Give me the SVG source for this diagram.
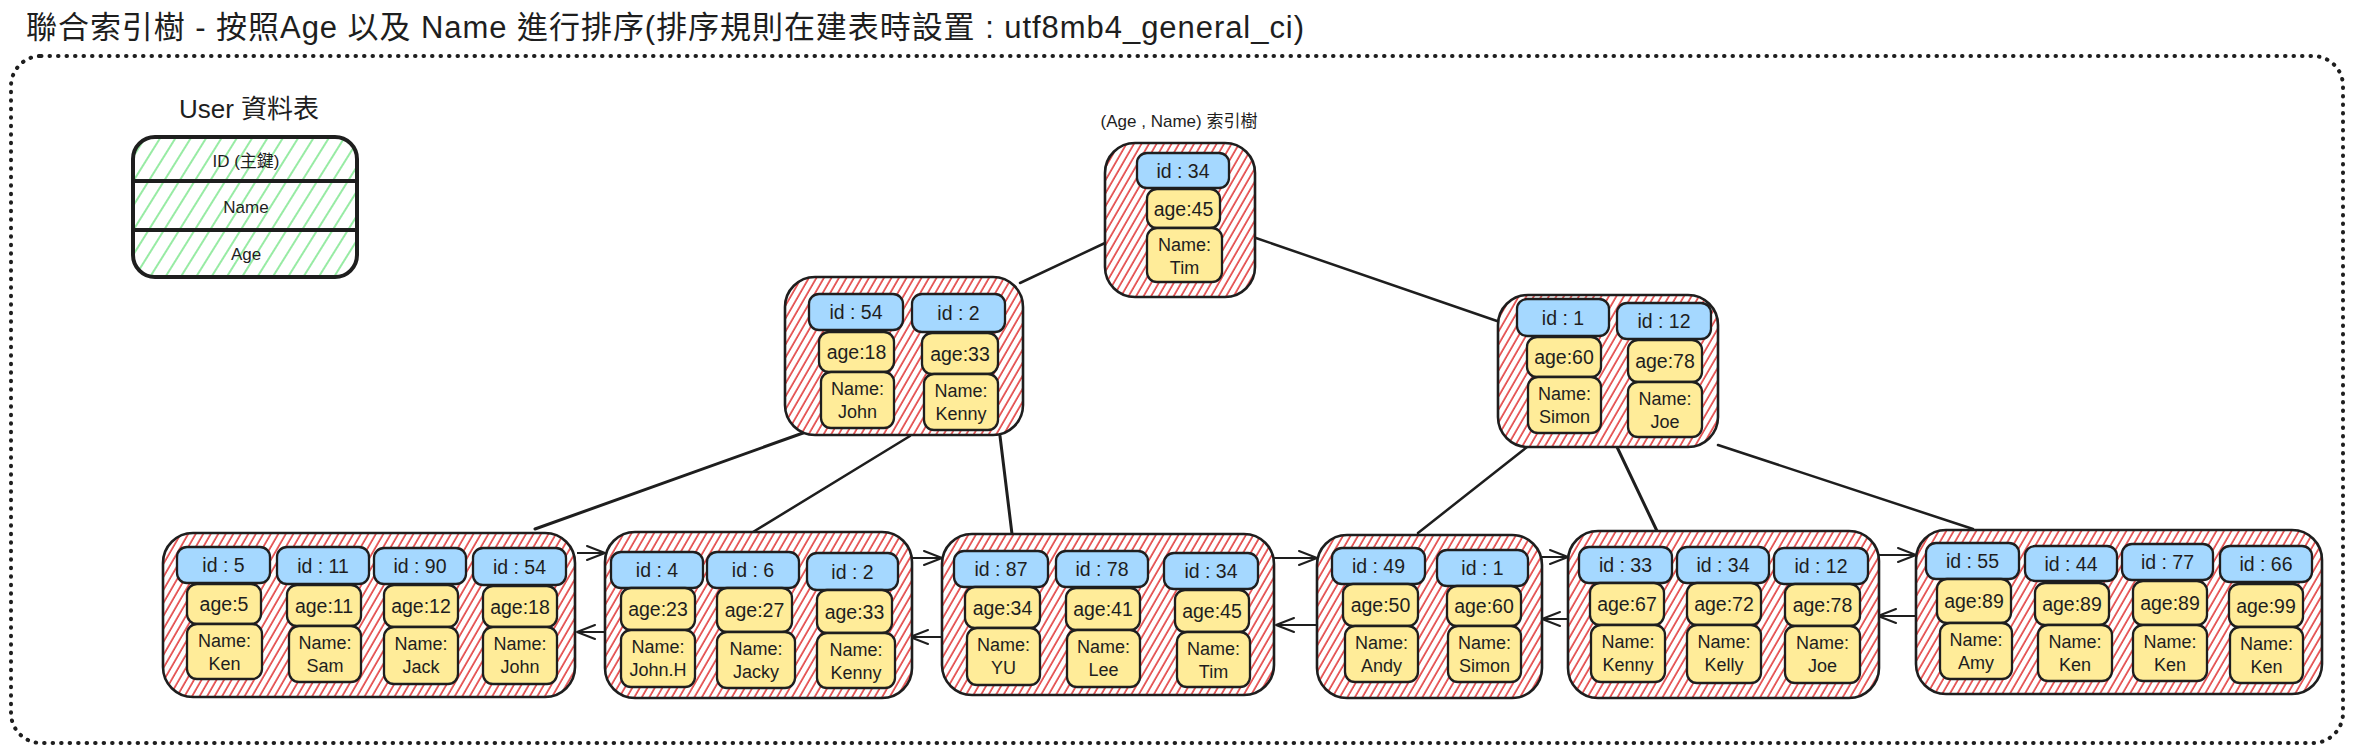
<svg xmlns="http://www.w3.org/2000/svg" width="2353" height="752" viewBox="0 0 2353 752">
<style>
.t{font-family:"Liberation Sans","Noto Sans CJK TC",sans-serif;fill:#1e1e1e;text-anchor:middle;dominant-baseline:central;font-size:19.5px}
.n{font-size:18px}
.node{fill:url(#hr);stroke:#1e1e1e;stroke-width:2.6}
.idb{fill:#a5d8ff;stroke:#1e1e1e;stroke-width:2.3}
.ab{fill:#ffec99;stroke:#1e1e1e;stroke-width:2.3}
.ln{stroke:#1e1e1e;stroke-width:2.5;fill:none;stroke-linecap:round}
.ar{stroke:#1e1e1e;stroke-width:2;fill:none;marker-end:url(#ah)}
</style>
<defs>
<pattern id="hr" width="6.5" height="6.5" patternUnits="userSpaceOnUse" patternTransform="rotate(30)"><rect width="6.5" height="6.5" fill="#ffffff"/><line x1="1" y1="0" x2="1" y2="6.5" stroke="#e03131" stroke-width="1.5"/></pattern>
<pattern id="hg" width="13" height="13" patternUnits="userSpaceOnUse" patternTransform="rotate(32)"><rect width="13" height="13" fill="#ffffff"/><line x1="1" y1="0" x2="1" y2="13" stroke="#8ce99a" stroke-width="1.8"/></pattern>
<marker id="ah" viewBox="0 0 20 16" markerWidth="20" markerHeight="16" refX="19" refY="8" orient="auto" markerUnits="userSpaceOnUse"><path d="M1,1 L19,8 L1,15" fill="none" stroke="#1e1e1e" stroke-width="2" stroke-linecap="round" stroke-linejoin="round"/></marker>
</defs>
<rect width="2353" height="752" fill="#ffffff"/>
<text id="title" x="26" y="27" textLength="1278" lengthAdjust="spacing" style="font-family:'Liberation Sans','Noto Sans CJK TC',sans-serif;font-size:31px;fill:#1e1e1e;dominant-baseline:central">聯合索引樹 - 按照Age 以及 Name 進行排序(排序規則在建表時設置 : utf8mb4_general_ci)</text>
<rect id="frame" x="11" y="56" width="2332" height="687" rx="30" fill="none" stroke="#1e1e1e" stroke-width="4" stroke-linecap="round" stroke-dasharray="0.5 8"/>

<g id="user-table">
<text class="t" x="249" y="109" style="font-size:26px">User 資料表</text>
<rect x="133" y="137" width="224" height="140" rx="22" fill="url(#hg)" stroke="#1e1e1e" stroke-width="4"/>
<line x1="133" y1="181" x2="357" y2="181" stroke="#1e1e1e" stroke-width="4"/>
<line x1="133" y1="230" x2="357" y2="230" stroke="#1e1e1e" stroke-width="4"/>
<text class="t" x="246" y="161" style="font-size:17px">ID (主鍵)</text>
<text class="t" x="246" y="207" style="font-size:17px">Name</text>
<text class="t" x="246" y="254" style="font-size:17px">Age</text>
</g>

<text id="tree-label" class="t" x="1179" y="121" style="font-size:17px">(Age , Name) 索引樹</text>

<g id="connectors">
<line class="ln" x1="1105" y1="243" x2="1020" y2="283"/>
<line class="ln" x1="1253" y1="237" x2="1497" y2="321"/>
<line class="ln" x1="803" y1="433" x2="535" y2="529" style="stroke-width:3"/>
<line class="ln" x1="910" y1="436" x2="753" y2="532"/>
<line class="ln" x1="1000" y1="436" x2="1012" y2="534" style="stroke-width:3"/>
<line class="ln" x1="1527" y1="447" x2="1418" y2="533"/>
<line class="ln" x1="1617" y1="447" x2="1657" y2="531" style="stroke-width:3"/>
<line class="ln" x1="1718" y1="445" x2="1973" y2="529"/>
<line class="ar" x1="577" y1="553" x2="605" y2="553"/>
<line class="ar" x1="605" y1="632" x2="577" y2="632"/>
<line class="ar" x1="912" y1="558" x2="942" y2="558"/>
<line class="ar" x1="942" y1="637" x2="910" y2="637"/>
<line class="ar" x1="1274" y1="558" x2="1317" y2="558"/>
<line class="ar" x1="1317" y1="625" x2="1276" y2="625"/>
<line class="ar" x1="1542" y1="557" x2="1568" y2="557"/>
<line class="ar" x1="1568" y1="619" x2="1542" y2="619"/>
<line class="ar" x1="1879" y1="555" x2="1916" y2="555"/>
<line class="ar" x1="1916" y1="616" x2="1878" y2="616"/>
</g>

<g id="root">
<rect class="node" x="1105" y="143" width="150" height="154" rx="30"/>
<rect class="idb" x="1137" y="153" width="92" height="35" rx="10"/><text class="t" x="1183" y="170.5">id : 34</text>
<rect class="ab" x="1147" y="189" width="73" height="39" rx="10"/><text class="t" x="1183.5" y="208.5">age:45</text>
<rect class="ab" x="1147" y="228" width="75" height="54" rx="10"/><text class="t n" x="1184.5" y="245">Name:</text><text class="t n" x="1184.5" y="268">Tim</text>
</g>

<g id="inner-left">
<rect class="node" x="785" y="277" width="238" height="158" rx="30"/>
<rect class="idb" x="809" y="294" width="94" height="36" rx="10"/><text class="t" x="856" y="312">id : 54</text>
<rect class="ab" x="819" y="332" width="75" height="40" rx="10"/><text class="t" x="856.5" y="352">age:18</text>
<rect class="ab" x="821" y="372" width="73" height="56" rx="10"/><text class="t n" x="857.5" y="389">Name:</text><text class="t n" x="857.5" y="412">John</text>
<rect class="idb" x="912" y="294" width="93" height="38" rx="10"/><text class="t" x="958.5" y="313">id : 2</text>
<rect class="ab" x="922" y="333" width="76" height="41" rx="10"/><text class="t" x="960" y="353.5">age:33</text>
<rect class="ab" x="924" y="374" width="74" height="56" rx="10"/><text class="t n" x="961" y="391">Name:</text><text class="t n" x="961" y="414">Kenny</text>
</g>

<g id="inner-right">
<rect class="node" x="1498" y="295" width="220" height="152" rx="30"/>
<rect class="idb" x="1517" y="299" width="92" height="37" rx="10"/><text class="t" x="1563" y="317.5">id : 1</text>
<rect class="ab" x="1527" y="337" width="74" height="40" rx="10"/><text class="t" x="1564" y="357">age:60</text>
<rect class="ab" x="1528" y="377" width="73" height="56" rx="10"/><text class="t n" x="1564.5" y="394">Name:</text><text class="t n" x="1564.5" y="417">Simon</text>
<rect class="idb" x="1617" y="303" width="94" height="36" rx="10"/><text class="t" x="1664" y="321">id : 12</text>
<rect class="ab" x="1628" y="340" width="74" height="42" rx="10"/><text class="t" x="1665" y="361">age:78</text>
<rect class="ab" x="1628" y="382" width="74" height="55" rx="10"/><text class="t n" x="1665" y="399">Name:</text><text class="t n" x="1665" y="422">Joe</text>
</g>

<g id="leaf1">
<rect class="node" x="163" y="533" width="412" height="164" rx="30"/>
<rect class="idb" x="177" y="547" width="93" height="36" rx="10"/><text class="t" x="223.5" y="565">id : 5</text>
<rect class="ab" x="187" y="584" width="74" height="40" rx="10"/><text class="t" x="224" y="604">age:5</text>
<rect class="ab" x="187" y="624" width="75" height="55" rx="10"/><text class="t n" x="224.5" y="641">Name:</text><text class="t n" x="224.5" y="664">Ken</text>
<rect class="idb" x="277" y="547" width="92" height="37" rx="10"/><text class="t" x="323" y="565.5">id : 11</text>
<rect class="ab" x="287" y="585" width="74" height="41" rx="10"/><text class="t" x="324" y="605.5">age:11</text>
<rect class="ab" x="289" y="626" width="72" height="56" rx="10"/><text class="t n" x="325" y="643">Name:</text><text class="t n" x="325" y="666">Sam</text>
<rect class="idb" x="374" y="548" width="92" height="36" rx="10"/><text class="t" x="420" y="566">id : 90</text>
<rect class="ab" x="384" y="585" width="74" height="42" rx="10"/><text class="t" x="421" y="606">age:12</text>
<rect class="ab" x="384" y="627" width="74" height="57" rx="10"/><text class="t n" x="421" y="644">Name:</text><text class="t n" x="421" y="667">Jack</text>
<rect class="idb" x="473" y="548" width="93" height="37" rx="10"/><text class="t" x="519.5" y="566.5">id : 54</text>
<rect class="ab" x="483" y="586" width="74" height="41" rx="10"/><text class="t" x="520" y="606.5">age:18</text>
<rect class="ab" x="483" y="627" width="74" height="57" rx="10"/><text class="t n" x="520" y="644">Name:</text><text class="t n" x="520" y="667">John</text>
</g>

<g id="leaf2">
<rect class="node" x="605" y="532" width="307" height="166" rx="30"/>
<rect class="idb" x="611" y="552" width="92" height="36" rx="10"/><text class="t" x="657" y="570">id : 4</text>
<rect class="ab" x="621" y="588" width="74" height="42" rx="10"/><text class="t" x="658" y="609">age:23</text>
<rect class="ab" x="621" y="630" width="74" height="57" rx="10"/><text class="t n" x="658" y="647">Name:</text><text class="t n" x="658" y="670">John.H</text>
<rect class="idb" x="707" y="552" width="92" height="36" rx="10"/><text class="t" x="753" y="570">id : 6</text>
<rect class="ab" x="717" y="588" width="75" height="44" rx="10"/><text class="t" x="754.5" y="610">age:27</text>
<rect class="ab" x="717" y="632" width="78" height="56" rx="10"/><text class="t n" x="756" y="649">Name:</text><text class="t n" x="756" y="672">Jacky</text>
<rect class="idb" x="807" y="553" width="91" height="37" rx="10"/><text class="t" x="852.5" y="571.5">id : 2</text>
<rect class="ab" x="817" y="590" width="75" height="43" rx="10"/><text class="t" x="854.5" y="611.5">age:33</text>
<rect class="ab" x="817" y="633" width="78" height="55" rx="10"/><text class="t n" x="856" y="650">Name:</text><text class="t n" x="856" y="673">Kenny</text>
</g>

<g id="leaf3">
<rect class="node" x="942" y="534" width="332" height="161" rx="30"/>
<rect class="idb" x="954" y="551" width="94" height="36" rx="10"/><text class="t" x="1001" y="569">id : 87</text>
<rect class="ab" x="965" y="587" width="75" height="41" rx="10"/><text class="t" x="1002.5" y="607.5">age:34</text>
<rect class="ab" x="967" y="628" width="73" height="57" rx="10"/><text class="t n" x="1003.5" y="645">Name:</text><text class="t n" x="1003.5" y="668">YU</text>
<rect class="idb" x="1056" y="551" width="92" height="36" rx="10"/><text class="t" x="1102" y="569">id : 78</text>
<rect class="ab" x="1066" y="588" width="74" height="42" rx="10"/><text class="t" x="1103" y="609">age:41</text>
<rect class="ab" x="1067" y="630" width="73" height="57" rx="10"/><text class="t n" x="1103.5" y="647">Name:</text><text class="t n" x="1103.5" y="670">Lee</text>
<rect class="idb" x="1164" y="553" width="94" height="36" rx="10"/><text class="t" x="1211" y="571">id : 34</text>
<rect class="ab" x="1175" y="590" width="74" height="42" rx="10"/><text class="t" x="1212" y="611">age:45</text>
<rect class="ab" x="1177" y="632" width="73" height="55" rx="10"/><text class="t n" x="1213.5" y="649">Name:</text><text class="t n" x="1213.5" y="672">Tim</text>
</g>

<g id="leaf4">
<rect class="node" x="1317" y="535" width="225" height="163" rx="30"/>
<rect class="idb" x="1332" y="548" width="93" height="36" rx="10"/><text class="t" x="1378.5" y="566">id : 49</text>
<rect class="ab" x="1343" y="584" width="75" height="42" rx="10"/><text class="t" x="1380.5" y="605">age:50</text>
<rect class="ab" x="1345" y="626" width="73" height="56" rx="10"/><text class="t n" x="1381.5" y="643">Name:</text><text class="t n" x="1381.5" y="666">Andy</text>
<rect class="idb" x="1437" y="550" width="91" height="36" rx="10"/><text class="t" x="1482.5" y="568">id : 1</text>
<rect class="ab" x="1447" y="586" width="74" height="40" rx="10"/><text class="t" x="1484" y="606">age:60</text>
<rect class="ab" x="1448" y="626" width="73" height="56" rx="10"/><text class="t n" x="1484.5" y="643">Name:</text><text class="t n" x="1484.5" y="666">Simon</text>
</g>

<g id="leaf5">
<rect class="node" x="1568" y="531" width="311" height="167" rx="30"/>
<rect class="idb" x="1579" y="547" width="93" height="36" rx="10"/><text class="t" x="1625.5" y="565">id : 33</text>
<rect class="ab" x="1590" y="583" width="74" height="42" rx="10"/><text class="t" x="1627" y="604">age:67</text>
<rect class="ab" x="1591" y="625" width="74" height="57" rx="10"/><text class="t n" x="1628" y="642">Name:</text><text class="t n" x="1628" y="665">Kenny</text>
<rect class="idb" x="1677" y="547" width="92" height="36" rx="10"/><text class="t" x="1723" y="565">id : 34</text>
<rect class="ab" x="1687" y="583" width="74" height="42" rx="10"/><text class="t" x="1724" y="604">age:72</text>
<rect class="ab" x="1687" y="625" width="74" height="58" rx="10"/><text class="t n" x="1724" y="642">Name:</text><text class="t n" x="1724" y="665">Kelly</text>
<rect class="idb" x="1774" y="548" width="94" height="36" rx="10"/><text class="t" x="1821" y="566">id : 12</text>
<rect class="ab" x="1785" y="584" width="75" height="42" rx="10"/><text class="t" x="1822.5" y="605">age:78</text>
<rect class="ab" x="1785" y="626" width="75" height="57" rx="10"/><text class="t n" x="1822.5" y="643">Name:</text><text class="t n" x="1822.5" y="666">Joe</text>
</g>

<g id="leaf6">
<rect class="node" x="1916" y="530" width="406" height="164" rx="30"/>
<rect class="idb" x="1926" y="543" width="93" height="36" rx="10"/><text class="t" x="1972.5" y="561">id : 55</text>
<rect class="ab" x="1937" y="579" width="74" height="44" rx="10"/><text class="t" x="1974" y="601">age:89</text>
<rect class="ab" x="1940" y="623" width="72" height="56" rx="10"/><text class="t n" x="1976" y="640">Name:</text><text class="t n" x="1976" y="663">Amy</text>
<rect class="idb" x="2025" y="546" width="92" height="35" rx="10"/><text class="t" x="2071" y="563.5">id : 44</text>
<rect class="ab" x="2035" y="583" width="74" height="42" rx="10"/><text class="t" x="2072" y="604">age:89</text>
<rect class="ab" x="2038" y="625" width="74" height="56" rx="10"/><text class="t n" x="2075" y="642">Name:</text><text class="t n" x="2075" y="665">Ken</text>
<rect class="idb" x="2122" y="544" width="91" height="36" rx="10"/><text class="t" x="2167.5" y="562">id : 77</text>
<rect class="ab" x="2133" y="581" width="74" height="44" rx="10"/><text class="t" x="2170" y="603">age:89</text>
<rect class="ab" x="2133" y="625" width="74" height="56" rx="10"/><text class="t n" x="2170" y="642">Name:</text><text class="t n" x="2170" y="665">Ken</text>
<rect class="idb" x="2220" y="546" width="92" height="36" rx="10"/><text class="t" x="2266" y="564">id : 66</text>
<rect class="ab" x="2229" y="584" width="74" height="43" rx="10"/><text class="t" x="2266" y="605.5">age:99</text>
<rect class="ab" x="2230" y="627" width="73" height="56" rx="10"/><text class="t n" x="2266.5" y="644">Name:</text><text class="t n" x="2266.5" y="667">Ken</text>
</g>
</svg>
